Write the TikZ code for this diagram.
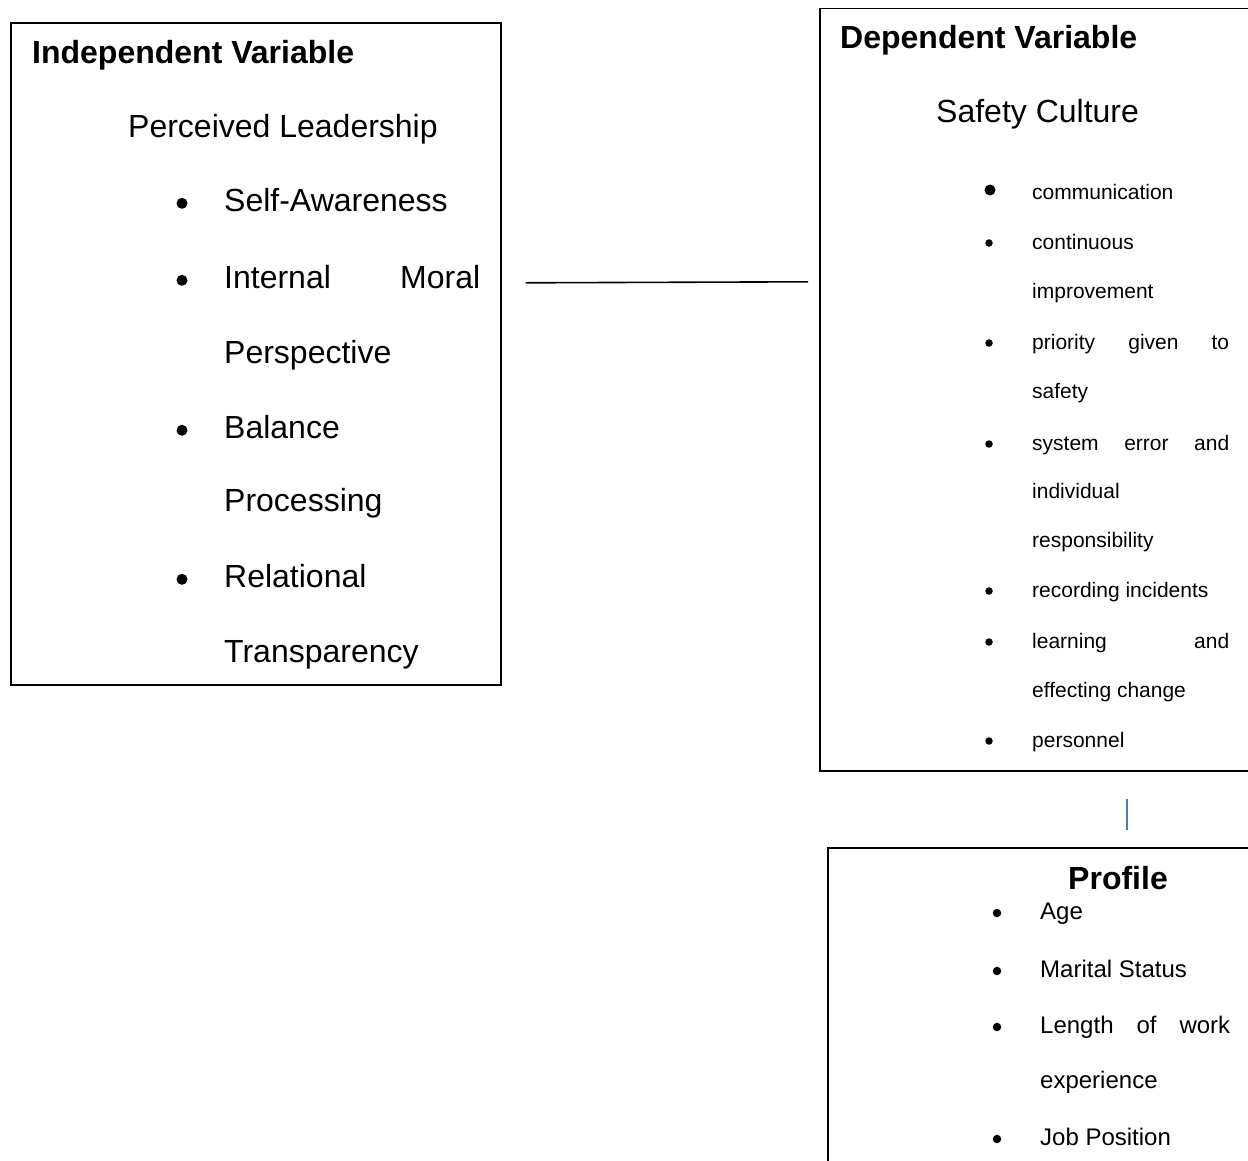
\documentclass[tikz,border=0pt]{standalone}
\usepackage{fontspec}
\setmainfont{Liberation Sans}
\usepackage{xcolor}
\usetikzlibrary{positioning,calc}

\definecolor{linkblue}{RGB}{74,126,170}

\begin{document}
\begin{tikzpicture}[x=1pt, y=-1pt,
    box/.style={rectangle, draw=black, line width=1.6pt, inner sep=0pt, anchor=north west},
    head/.style={inner sep=0pt, anchor=base west, font=\fontsize{32}{38}\selectfont\bfseries},
    big/.style={inner sep=0pt, anchor=base west, font=\fontsize{32}{38}\selectfont},
    small/.style={inner sep=0pt, anchor=base west, font=\fontsize{21}{25}\selectfont},
    prof_item/.style={inner sep=0pt, anchor=base west, font=\fontsize{24}{29}\selectfont},
    dot/.style={circle, fill=black, inner sep=0pt, minimum size=#1},
    dot/.default=7.5,
    line/.style={draw, line width=1.6pt},
    line_blue/.style={draw=linkblue, line width=1.4pt}]

    \useasboundingbox (0,0) rectangle (1248,1160);
    \clip (0,0) rectangle (1248,1160);

    % boxes
    \node [box, minimum width=490, minimum height=662] (iv) at (10,22) {};
    \node [box, minimum width=460, minimum height=762.5] (dv) at (819,7.5) {};
    \node [box, minimum width=460, minimum height=340] (prof) at (827,847) {};

    % independent variable
    \node [head] (ivtitle) at (32,63) {Independent Variable};
    \node [big] (lead) at (128,137) {Perceived Leadership};
    \foreach \y/\t [count=\i] in {211/Self-Awareness, 288/{\hbox to 256pt{Internal\hfill Moral}},
        363/Perspective, 438/Balance, 511/Processing, 587/Relational, 662/Transparency}
        \node [big] (lead\i) at (224,\y) {\t};
    \foreach \y [count=\i] in {211,288,438,587}
        \node [dot=11] (leaddot\i) at (182,\y-7.7) {};

    % dependent variable
    \node [head] (dvtitle) at (840,48) {Dependent Variable};
    \node [big] (safety) at (936,122) {Safety Culture};
    \foreach \y/\t [count=\i] in {199/communication, 249/continuous, 298/improvement,
        349/{\hbox to 197pt{priority\hfill given\hfill to}}, 398/safety,
        450/{\hbox to 197pt{system\hfill error\hfill and}}, 498/individual, 547/responsibility,
        597/recording incidents, 648/{\hbox to 197pt{learning\hfill and}},
        697/effecting change, 747/personnel}
        \node [small] (cult\i) at (1032,\y) {\t};
    \node [dot=11] (cultdot0) at (990,190) {};
    \foreach \y [count=\i] in {249,349,450,597,648,747}
        \node [dot] (cultdot\i) at (989,\y-6) {};

    % profile
    \node [head, anchor=base] (proftitle) at (1118,889) {Profile};
    \foreach \y/\t [count=\i] in {919/Age, 977/Marital Status,
        1033/{\hbox to 190pt{Length\hfill of\hfill work}}, 1088/experience, 1145/Job Position}
        \node [prof_item] (pitem\i) at (1040,\y) {\t};
    \foreach \y [count=\i] in {919,977,1033,1145}
        \node [dot=8.5] (pdot\i) at (997,\y-6) {};

    % connectors
    \path [line] ([shift={(24,-71)}]iv.east) -- ([shift={(-11,-107.75)}]dv.west);
    \path [line_blue] ([shift={(77,27)}]dv.south) -- ([shift={(69,-17)}]prof.north);
\end{tikzpicture}
\end{document}
